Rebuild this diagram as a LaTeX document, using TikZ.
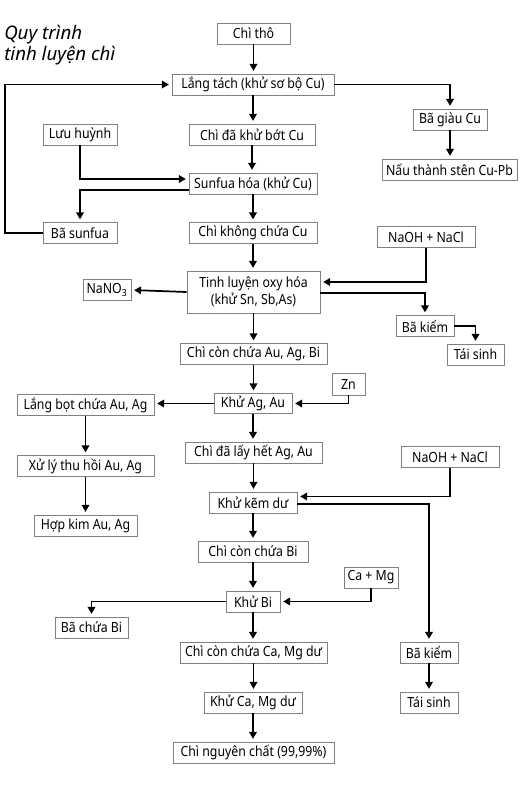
\documentclass[tikz,border=0pt]{standalone}
\usepackage{fontspec}
\setmainfont{Noto Sans}[FakeStretch=0.88]
\newfontfamily\titlefont{Noto Sans}
\usetikzlibrary{arrows.meta, calc}
\newdimen\px \px=0.75pt

\begin{document}
\begin{tikzpicture}[
    x=0.75pt, y=-0.75pt,
    box/.style={draw=black!50, line width=0.7pt, fill=white, minimum height=21\px, inner xsep=2pt, inner ysep=1pt, font=\fontsize{10.5}{12.5}\selectfont, align=center},
    arrow/.style={-{Triangle[length=5.2pt, width=5.6pt]}, line width=1.3pt, shorten >=2pt},
]

\useasboundingbox (0,0) rectangle (530,786);

% Title
\node (title) [anchor=north west, inner sep=0pt, align=left, font=\titlefont\itshape\fontsize{14}{16}\selectfont] at (4,25) {Quy trình\\tinh luyện chì};

% Main column
\node (chitho) [box, minimum width=73\px] at (253.5,33.5) {Chì thô};
\node (langtach) [box, minimum width=162\px] at (253,84.5) {Lắng tách (khử sơ bộ Cu)};
\node (khubot) [box, minimum width=126\px] at (252,134.5) {Chì đã khử bớt Cu};
\node (sunfua) [box, minimum width=128\px] at (253,183.5) {Sunfua hóa (khử Cu)};
\node (khongcu) [box, minimum width=128\px] at (253,233) {Chì không chứa Cu};
\node (oxyhoa) [box, minimum width=133\px, minimum height=42\px] at (253.5,292) {Tinh luyện oxy hóa\\(khử Sn, Sb,As)};
\node (conaubi) [box, minimum width=147\px] at (253.5,354) {Chì còn chứa Au, Ag, Bi};
\node (khuagau) [box, minimum width=78\px, minimum height=20\px] at (253,403.5) {Khử Ag, Au};
\node (hetagau) [box, minimum width=137\px] at (253.5,452.5) {Chì đã lấy hết Ag, Au};
\node (khukem) [box, minimum width=88\px] at (253,502.5) {Khử kẽm dư};
\node (conbi) [box, minimum width=110\px] at (253,551.5) {Chì còn chứa Bi};
\node (khubi) [box, minimum width=54\px] at (253,601.5) {Khử Bi};
\node (concamg) [box, minimum width=147\px] at (253.5,652.5) {Chì còn chứa Ca, Mg dư};
\node (khucamg) [box, minimum width=98\px] at (253,702.5) {Khử Ca, Mg dư};
\node (nguyenchat) [box, minimum width=161\px] at (253.5,752.5) {Chì nguyên chất (99,99\%)};

% Left side
\node (luuhuynh) [box, minimum width=74\px] at (80,134.5) {Lưu huỳnh};
\node (basunfua) [box, minimum width=74\px] at (80,233) {Bã sunfua};
\node (nano) [box, minimum width=48\px] at (107,290) {NaNO\textsubscript{3}};
\node (langbot) [box, minimum width=137\px] at (85.5,405) {Lắng bọt chứa Au, Ag};
\node (xuly) [box, minimum width=137\px] at (85.5,466) {Xử lý thu hồi Au, Ag};
\node (hopkim) [box, minimum width=103\px] at (85.5,525.5) {Hợp kim Au, Ag};
\node (bachuabi) [box, minimum width=73\px] at (91.5,627.5) {Bã chứa Bi};

% Right side
\node (bagiau) [box, minimum width=74\px] at (450,119.5) {Bã giàu Cu};
\node (nauthanh) [box, minimum width=135\px] at (449.5,169.5) {Nấu thành stên Cu-Pb};
\node (naoh_a) [box, minimum width=98\px] at (426,237) {NaOH + NaCl};
\node (bakiem_a) [box, minimum width=58\px] at (425,326) {Bã kiểm};
\node (taisinh_a) [box, minimum width=57\px] at (475.5,354.5) {Tái sinh};
\node (zn) [box, minimum width=33\px, minimum height=22\px] at (348.5,384) {Zn};
\node (naoh_b) [box, minimum width=98\px] at (450,457) {NaOH + NaCl};
\node (camg) [box, minimum width=54\px] at (371,577.5) {Ca + Mg};
\node (bakiem_b) [box, minimum width=58\px] at (429,652.5) {Bã kiểm};
\node (taisinh_b) [box, minimum width=58\px] at (429,702.5) {Tái sinh};

\coordinate (loopleft) at (5,0);

% Straight arrows
\foreach \a/\b in {chitho/langtach, langtach/khubot, khubot/sunfua, sunfua/khongcu,
    khongcu/oxyhoa, oxyhoa/conaubi, conaubi/khuagau, khuagau/hetagau, hetagau/khukem,
    khukem/conbi, conbi/khubi, khubi/concamg, concamg/khucamg, khucamg/nguyenchat,
    langbot/xuly, xuly/hopkim, bagiau/nauthanh, bakiem_b/taisinh_b}
  \draw[arrow] (\a) -- (\a |- \b.north);

% Elbow arrows
\draw[arrow] (basunfua.west) -- (basunfua.west -| loopleft) |- (langtach.west);
\draw[arrow] (langtach.east) -| (bagiau.north);
\draw[arrow] (luuhuynh.south) |- ($(sunfua.west)+(0,-4.5)$);
\draw[arrow] ($(sunfua.west)+(0,6.5)$) -| (basunfua.north);
\draw[arrow] (naoh_a.south) |- ($(oxyhoa.east)+(0,-10)$);
\draw[arrow] ($(oxyhoa.east)+(0,1)$) -| (bakiem_a.north);
\draw[arrow] (oxyhoa.west) -- (nano.east);
\draw[arrow] (bakiem_a.east) -| (taisinh_a.north);
\draw[arrow] (zn.south) |- (khuagau.east);
\draw[arrow] (khuagau.west) -- (langbot.east |- khuagau.west);
\draw[arrow] (naoh_b.south) |- ($(khukem.east)+(0,-6)$);
\draw[arrow] ($(khukem.east)+(0,1.5)$) -| (bakiem_b.north);
\draw[arrow] (camg.south) |- (khubi.east);
\draw[arrow] (khubi.west) -| (bachuabi.north);

\end{tikzpicture}
\end{document}
